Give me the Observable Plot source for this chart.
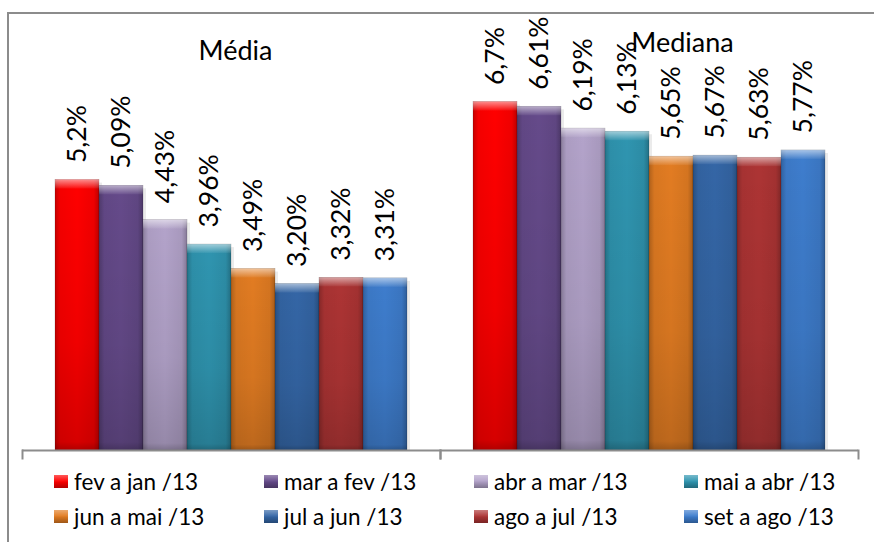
<!DOCTYPE html>
<html>
<head>
<meta charset="utf-8">
<script src="https://cdn.jsdelivr.net/npm/d3@7"></script>
<script src="https://cdn.jsdelivr.net/npm/@observablehq/plot@0.6"></script>
<style>
  html, body { margin: 0; background: #fff; overflow: hidden; }
  #chart { position: relative; width: 874px; height: 542px; overflow: hidden; background: #fff; font-family: Lato, sans-serif; }
  #edges { position: absolute; left: 0; top: 0; }
  #plot { position: absolute; left: 0; top: 0; }
  #legend { position: absolute; left: 54px; top: 464px; }
  .lg-swatches { width: 840px; margin: 0 !important; min-height: 0 !important; font-size: 22.5px !important; font-family: Lato, sans-serif !important; color: #000 !important; }
  .lg-swatches .lg-swatch { width: 210px; height: 35px; margin: 0 !important; }
  .lg-swatch > svg { margin-right: 6px !important; }
</style>
</head>
<body>
<div id="chart">
  <svg id="edges" width="874" height="542"><path d="M8,542V13H874" fill="none" stroke="#8c8c8c" stroke-width="2"/></svg>
  <div id="plot"></div>
  <div id="legend"></div>
</div>
<script>
// Two summary statistics, each compared across eight rolling 12-month windows
const groups = ["Média", "Mediana"];
const periods = [
  "fev a jan /13", "mar a fev /13", "abr a mar /13", "mai a abr /13",
  "jun a mai /13", "jul a jun /13", "ago a jul /13", "set a ago /13"
];
const colors = ["#ff0000", "#654a8a", "#b3a3ca", "#2f95b0", "#e27c22", "#3466a6", "#ad3434", "#3e7dcd"];
const mediaValues = [5.2, 5.09, 4.43, 3.96, 3.49, 3.20, 3.32, 3.31];
const medianaValues = [6.7, 6.61, 6.19, 6.13, 5.65, 5.67, 5.63, 5.77];
const mediaLabels = ["5,2%", "5,09%", "4,43%", "3,96%", "3,49%", "3,20%", "3,32%", "3,31%"];
const medianaLabels = ["6,7%", "6,61%", "6,19%", "6,13%", "5,65%", "5,67%", "5,63%", "5,77%"];

const rows = [
  ...periods.map((p, i) => ({group: groups[0], period: p, value: mediaValues[i], label: mediaLabels[i]})),
  ...periods.map((p, i) => ({group: groups[1], period: p, value: medianaValues[i], label: medianaLabels[i]}))
];

const axisGray = "#8c8c8c";
const font = "Lato, sans-serif";

const chart = Plot.plot({
  width: 874,
  height: 470,
  marginLeft: 22,
  marginRight: 16,
  marginTop: 0,
  marginBottom: 12,
  style: {background: "transparent", fontFamily: font},
  fx: {domain: groups, padding: 0, axis: null},
  x: {domain: periods, paddingInner: 0, paddingOuter: 0.74, axis: null},
  y: {domain: [0, 8], range: [450, 34], axis: null},
  color: {domain: periods, range: colors},
  marks: [
    // soft shadow on the right of each bar
    Plot.rectY(rows, {fx: "group", x: "period", y: "value", fill: "#000", fillOpacity: 0.08, dx: 3, insetTop: 3}),
    // base bars
    Plot.rectY(rows, {fx: "group", x: "period", y: "value", fill: "period", stroke: "rgba(0,0,0,0.25)", strokeWidth: 0.6}),
    // side and bottom shading for a bevelled look
    Plot.rectY(rows, {fx: "group", x: "period", y: "value", fill: "url(#sideShade)"}),
    Plot.rectY(rows, {fx: "group", x: "period", y: "value", fill: "url(#depthShade)"}),
    // light top bevel
    Plot.rect(rows, {fx: "group", x: "period", y1: "value", y2: "value", insetBottom: -9, fill: "url(#bevel)"}),
    // category axis with ticks at group boundaries
    Plot.ruleY([0], {stroke: axisGray, strokeWidth: 2}),
    Plot.frame({anchor: "left", insetTop: 450, stroke: axisGray, strokeWidth: 2}),
    Plot.frame({anchor: "right", insetTop: 450, stroke: axisGray, strokeWidth: 2}),
    // value labels
    Plot.text(rows, {
      fx: "group", x: "period", y: "value", text: "label",
      rotate: -90, textAnchor: "start", dy: -17,
      fontSize: 26.5, fontFamily: font, fill: "#000"
    }),
    // group titles
    Plot.text([groups[0]], {fx: d => d, text: d => d, frameAnchor: "top", lineAnchor: "top", dy: 40, dx: 4, fontSize: 27, fontFamily: font, fill: "#000"}),
    Plot.text([groups[1]], {fx: d => d, text: d => d, frameAnchor: "top", lineAnchor: "top", dy: 32, dx: 33, fontSize: 27, fontFamily: font, fill: "#000"})
  ]
});

// gradients used by the shading marks
const defs = d3.select(chart).insert("defs", ":first-child");
const side = defs.append("linearGradient").attr("id", "sideShade")
  .attr("x1", 0).attr("x2", 1).attr("y1", 0).attr("y2", 0);
[[0, 0.22], [0.12, 0.04], [0.5, 0], [0.88, 0.06], [1, 0.25]].forEach(([o, a]) =>
  side.append("stop").attr("offset", o).attr("stop-color", "#000").attr("stop-opacity", a));
const depth = defs.append("linearGradient").attr("id", "depthShade")
  .attr("x1", 0).attr("x2", 0).attr("y1", 0).attr("y2", 1);
[[0, 0], [0.6, 0.06], [0.97, 0.16], [1, 0.3]].forEach(([o, a]) =>
  depth.append("stop").attr("offset", o).attr("stop-color", "#000").attr("stop-opacity", a));
const bevel = defs.append("linearGradient").attr("id", "bevel")
  .attr("x1", 0).attr("x2", 0).attr("y1", 0).attr("y2", 1);
[[0, 0.55], [0.5, 0.3], [1, 0.05]].forEach(([o, a]) =>
  bevel.append("stop").attr("offset", o).attr("stop-color", "#fff").attr("stop-opacity", a));
const sw = defs.append("linearGradient").attr("id", "swatchShade")
  .attr("x1", 0).attr("x2", 0).attr("y1", 0).attr("y2", 1);
[[0, 0.35, "#fff"], [0.45, 0.05, "#fff"], [0.55, 0.05, "#000"], [1, 0.3, "#000"]].forEach(([o, a, c]) =>
  sw.append("stop").attr("offset", o).attr("stop-color", c).attr("stop-opacity", a));

document.getElementById("plot").appendChild(chart);

const legend = Plot.legend({
  color: {domain: periods, range: colors, type: "ordinal"},
  legend: "swatches",
  className: "lg",
  swatchWidth: 14,
  swatchHeight: 13
});
d3.select(legend).selectAll("svg").each(function () {
  d3.select(this).append("rect").attr("width", 14).attr("height", 13).attr("fill", "url(#swatchShade)");
});
document.getElementById("legend").appendChild(legend);
</script>
</body>
</html>
